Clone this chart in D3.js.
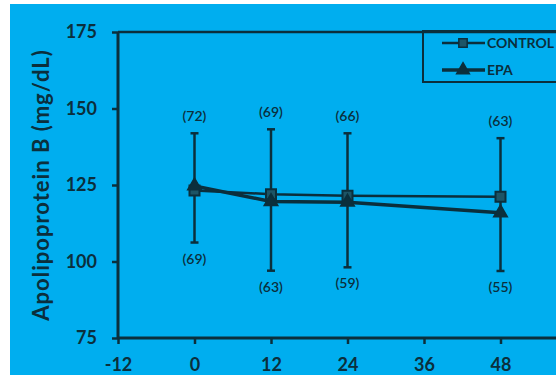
<!DOCTYPE html>
<html>
<head>
<meta charset="utf-8">
<script src="https://cdn.jsdelivr.net/npm/d3@7"></script>
<style>
  body { margin: 0; background: #fff; }
  svg { display: block; }
</style>
</head>
<body>
<div id="chart"></div>
<script>
const weeks = [0, 12, 24, 48];
const control = [123.2, 122.0, 121.5, 121.2];
const epa = [124.7, 119.6, 119.4, 115.9];
const errHigh = [141.9, 143.2, 141.9, 140.3];
const errLow = [106.2, 97.0, 98.1, 96.9];
const topN = ["(72)", "(69)", "(66)", "(63)"];
const bottomN = ["(69)", "(63)", "(59)", "(55)"];
const xTicks = [-12, 0, 12, 24, 36, 48];
const yTicks = [75, 100, 125, 150, 175];

const W = 556, H = 375;
const ink = "#0b2f3c";
const bg = "#00aeef";
const font = "Lato, 'Open Sans', sans-serif";

const svg = d3.select("#chart").append("svg")
  .attr("width", W).attr("height", H);

svg.append("rect").attr("x", 10).attr("y", 4)
  .attr("width", W - 10).attr("height", H - 4).attr("fill", bg);

const x = d3.scaleLinear().domain([-12, 60]).range([118, 577]);
const y = d3.scaleLinear().domain([75, 175]).range([338, 32]);

// frame
svg.append("line").attr("x1", x(-12)).attr("x2", W).attr("y1", y(175)).attr("y2", y(175))
  .attr("stroke", ink).attr("stroke-width", 2.5);

const yAxis = svg.append("g").attr("transform", `translate(${x(-12)},0)`)
  .call(d3.axisLeft(y).tickValues(yTicks).tickSize(6).tickPadding(15));
const xAxis = svg.append("g").attr("transform", `translate(0,${y(75)})`)
  .call(d3.axisBottom(x).tickValues(xTicks).tickFormat(d => String(d)).tickSize(6).tickPadding(14));
xAxis.select(".domain").attr("d", `M${x(-12)},0H${W}`);
yAxis.select(".domain").attr("d", `M0,${y(75)}V${y(175)}`);

[xAxis, yAxis].forEach(a => {
  a.select(".domain").attr("stroke", ink).attr("stroke-width", 3);
  a.selectAll(".tick line").attr("stroke", ink).attr("stroke-width", 2.5);
  a.selectAll(".tick text").attr("fill", ink)
    .style("font-family", font).style("font-size", "18px").style("font-weight", "bold");
});

svg.append("text")
  .attr("transform", `translate(49,${(y(75) + y(175)) / 2}) rotate(-90)`)
  .attr("text-anchor", "middle")
  .attr("fill", ink)
  .style("font-family", font).style("font-size", "22px").style("font-weight", "bold")
  .style("letter-spacing", "1px")
  .text("Apolipoprotein B (mg/dL)");

// error bars
const eb = svg.append("g");
weeks.forEach((w, i) => {
  const cx = x(w);
  eb.append("line").attr("x1", cx).attr("x2", cx).attr("y1", y(errHigh[i])).attr("y2", y(errLow[i]))
    .attr("stroke", ink).attr("stroke-width", 2.5);
  [errHigh[i], errLow[i]].forEach(v => {
    eb.append("line").attr("x1", cx - 4).attr("x2", cx + 4).attr("y1", y(v)).attr("y2", y(v))
      .attr("stroke", ink).attr("stroke-width", 2.5);
  });
  eb.append("text").attr("x", cx).attr("y", y(errHigh[i]) - 12)
    .attr("text-anchor", "middle").attr("fill", ink)
    .style("font-family", font).style("font-size", "14px").style("font-weight", 600).text(topN[i]);
  eb.append("text").attr("x", cx).attr("y", y(errLow[i]) + 21)
    .attr("text-anchor", "middle").attr("fill", ink)
    .style("font-family", font).style("font-size", "14px").style("font-weight", 600).text(bottomN[i]);
});

const line = d3.line().x(d => x(d[0])).y(d => y(d[1]));

svg.append("path").datum(weeks.map((w, i) => [w, control[i]]))
  .attr("d", line).attr("fill", "none").attr("stroke", ink).attr("stroke-width", 2.5);
svg.append("path").datum(weeks.map((w, i) => [w, epa[i]]))
  .attr("d", line).attr("fill", "none").attr("stroke", ink).attr("stroke-width", 3.5);

const sq = d3.symbol().type(d3.symbolSquare).size(100);
const tri = d3.symbol().type(d3.symbolTriangle).size(80);

svg.selectAll(".ctl").data(weeks).enter().append("path")
  .attr("transform", (d, i) => `translate(${x(d)},${y(control[i])})`)
  .attr("d", sq).attr("fill", "#1d5566").attr("stroke", ink).attr("stroke-width", 2);
svg.selectAll(".epa").data(weeks).enter().append("path")
  .attr("transform", (d, i) => `translate(${x(d)},${y(epa[i])})`)
  .attr("d", tri).attr("fill", ink).attr("stroke", ink).attr("stroke-width", 1.5);

// legend
const lg = svg.append("g");
lg.append("rect").attr("x", 423).attr("y", 31).attr("width", 160).attr("height", 51)
  .attr("fill", "none").attr("stroke", ink).attr("stroke-width", 2);
const items = [{ name: "CONTROL", sym: sq, w: 2.5, fill: "#1d5566" }, { name: "EPA", sym: tri, w: 3.5, fill: ink }];
items.forEach((it, i) => {
  const ly = 43 + i * 27;
  lg.append("line").attr("x1", 442).attr("x2", 485).attr("y1", ly).attr("y2", ly)
    .attr("stroke", ink).attr("stroke-width", it.w);
  lg.append("path").attr("transform", `translate(463,${ly})`)
    .attr("d", it.sym.size(70)).attr("fill", it.fill).attr("stroke", ink).attr("stroke-width", 1.5);
  lg.append("text").attr("x", 487).attr("y", ly).attr("dy", "0.36em").attr("fill", ink)
    .style("font-family", font).style("font-size", "14px").style("font-weight", "bold")
    .text(it.name);
});
</script>
</body>
</html>
